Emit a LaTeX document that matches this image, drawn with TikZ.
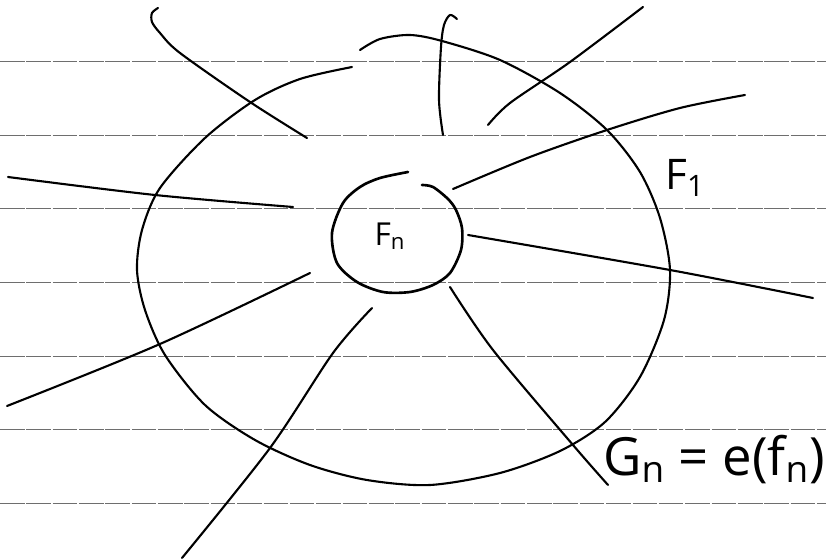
\documentclass[tikz,border=0pt]{standalone}
\usepackage{fontspec}
\setmainfont{Open Sans}
\definecolor{ruling}{RGB}{110,110,110}

\begin{document}
\begin{tikzpicture}[x=0.02cm,y=-0.02cm,
    pen/.style={line width=1.2pt,line cap=round,line join=round},
    ruled/.style={ruling,line width=0.5pt,dash pattern=on 14pt off 1pt},
    hand/.style={inner sep=0pt}]
  \useasboundingbox (0,0) rectangle (826,560);
  % ruled paper
  \foreach \y in {61,135,208,282,356,429,503}
    \draw[ruled] (0,\y) -- (826,\y);
  % outer set F_1
  \draw[pen] plot[smooth] coordinates {(360,50) (380,39) (410,35) (442,41) (500,60)
    (560,93) (607,130) (640,172) (660,218) (670,270) (664,320)
    (640,377) (605,422) (560,451) (500,473) (430,485) (367,480) (310,465)
    (255,440) (205,405) (165,355) (145,310) (137,270) (142,230)
    (160,188) (205,138) (255,100) (300,79) (352,67)};
  % inner set F_n
  \draw[pen,line width=1.5pt] plot[smooth] coordinates {(408,172) (380,178) (360,187)
    (343,203) (332,233) (337,263) (357,282) (383,292) (410,292) (433,285) (450,273)
    (461,250) (462,228) (456,210) (448,199) (433,187) (422,185)};
  % rays
  \draw[pen] plot[smooth] coordinates {(158,8) (152,13) (152,22) (160,33) (180,53) (250,102) (307,138)};
  \draw[pen] plot[smooth] coordinates {(457,19) (450,15) (444,25) (441,47) (439,100) (443,135)};
  \draw[pen] plot[smooth] coordinates {(643,7) (570,62) (510,103) (488,125)};
  \draw[pen] plot[smooth] coordinates {(745,95) (680,108) (607,130) (530,157) (453,189)};
  \draw[pen] plot[smooth] coordinates {(8,177) (155,195) (293,207)};
  \draw[pen] plot[smooth] coordinates {(468,235) (670,270) (813,298)};
  \draw[pen] plot[smooth] coordinates {(310,273) (160,344) (7,406)};
  \draw[pen] plot[smooth] coordinates {(372,308) (333,353) (270,448) (182,558)};
  \draw[pen] plot[smooth] coordinates {(450,287) (493,350) (573,445) (608,485)};
  % labels
  \node[hand,font=\fontsize{24}{28}\selectfont] (f1) at (685,178) {F\textsubscript{1}};
  \node[hand,font=\fontsize{18}{22}\selectfont] (fn) at (390,236) {F\textsubscript{n}};
  \node[hand,font=\fontsize{30}{34}\selectfont] (gn) at (714,460) {G\textsubscript{n} = e(f\textsubscript{n})};
\end{tikzpicture}
\end{document}
